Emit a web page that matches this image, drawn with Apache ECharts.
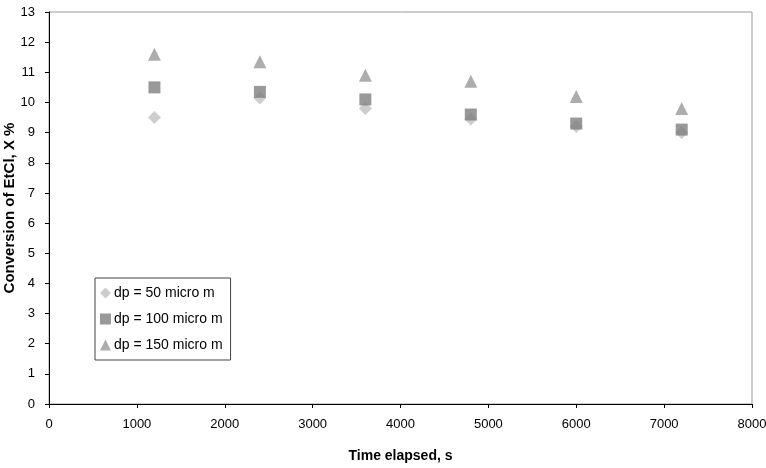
<!DOCTYPE html>
<html>
<head>
<meta charset="utf-8">
<script src="https://cdn.jsdelivr.net/npm/echarts@6/dist/echarts.min.js"></script>
<style>html,body{margin:0;padding:0;background:#fff}#c{width:766px;height:468px}</style>
</head>
<body>
<div id="c"></div>
<script>
const times = [1200, 2400, 3600, 4800, 6000, 7200];
const dp50 = [9.5, 10.15, 9.8, 9.45, 9.2, 9.0];
const dp100 = [10.5, 10.35, 10.1, 9.6, 9.3, 9.1];
const dp150 = [11.6, 11.35, 10.9, 10.7, 10.2, 9.8];
const seriesNames = ['dp = 50 micro m', 'dp = 100 micro m', 'dp = 150 micro m'];
const xTitle = 'Time elapsed, s';
const yTitle = 'Conversion of EtCl, X %';

const pair = (ys) => times.map((t, i) => [t, ys[i]]);
const font = 'Liberation Sans, Arial, sans-serif';

const chart = echarts.init(document.getElementById('c'), null, {renderer: 'canvas'});
chart.setOption({
  animation: false,
  backgroundColor: '#fff',
  grid: {left: 49, right: 14, top: 12, bottom: 64, containLabel: false, outerBoundsMode: 'none', show: true, borderColor: '#999', borderWidth: 1, backgroundColor: 'transparent'},
  legend: {
    orient: 'vertical', left: 95, top: 278, padding: [8, 8, 8, 5], itemGap: 12,
    itemWidth: 11, itemHeight: 11, itemStyle: {borderWidth: 0},
    borderColor: '#444', borderWidth: 1, backgroundColor: '#fff',
    textStyle: {fontFamily: font, fontSize: 14, color: '#000', padding: [0, 0, 0, -2]},
    data: [
      {name: seriesNames[0], icon: 'diamond'},
      {name: seriesNames[1], icon: 'rect'},
      {name: seriesNames[2], icon: 'triangle'}
    ]
  },
  xAxis: {
    type: 'value', min: 0, max: 8000, interval: 1000,
    name: xTitle, nameLocation: 'middle', nameGap: 45, nameMoveOverlap: false,
    nameTextStyle: {fontFamily: font, fontSize: 14, fontWeight: 'bold', color: '#000'},
    axisLine: {show: true, onZero: false, lineStyle: {color: '#000', width: 1}},
    axisTick: {show: true, inside: false, length: 4, lineStyle: {color: '#000'}},
    axisLabel: {fontFamily: font, fontSize: 13, color: '#000', margin: 14, formatter: (v) => String(v)},
    splitLine: {show: false}
  },
  yAxis: {
    type: 'value', min: 0, max: 13, interval: 1,
    name: yTitle, nameLocation: 'middle', nameGap: 32, nameRotate: 90, nameMoveOverlap: false,
    nameTextStyle: {fontFamily: font, fontSize: 15, fontWeight: 'bold', color: '#000'},
    axisLine: {show: true, onZero: false, lineStyle: {color: '#000', width: 1}},
    axisTick: {show: true, inside: false, length: 4, lineStyle: {color: '#000'}},
    axisLabel: {fontFamily: font, fontSize: 13, color: '#000', margin: 14, formatter: (v) => String(v)},
    splitLine: {show: false}
  },
  series: [
    {name: seriesNames[0], type: 'scatter', symbol: 'diamond', symbolSize: 13, data: pair(dp50), itemStyle: {color: '#c0c0c0'}, z: 2},
    {name: seriesNames[1], type: 'scatter', symbol: 'rect', symbolSize: 12, data: pair(dp100), itemStyle: {color: '#808080'}, z: 3},
    {name: seriesNames[2], type: 'scatter', symbol: 'triangle', symbolSize: 13, data: pair(dp150), itemStyle: {color: '#999999'}, z: 4}
  ]
});
</script>
</body>
</html>
